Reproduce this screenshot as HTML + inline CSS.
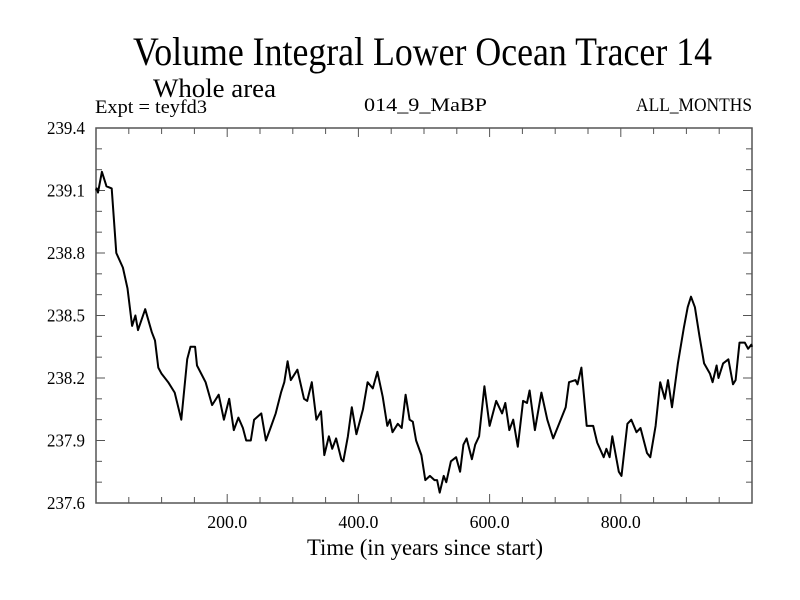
<!DOCTYPE html>
<html><head><meta charset="utf-8"><style>
html,body{margin:0;padding:0;background:#fff;}
svg{display:block;font-family:"Liberation Serif",serif;}
</style></head><body>
<svg id="chart" width="800" height="600" viewBox="0 0 800 600" xmlns="http://www.w3.org/2000/svg">
<rect width="800" height="600" fill="#fff"/>
<text x="133" y="65" font-size="40" textLength="579" lengthAdjust="spacingAndGlyphs">Volume Integral Lower Ocean Tracer 14</text>
<text x="153" y="97" font-size="26" textLength="123" lengthAdjust="spacingAndGlyphs">Whole area</text>
<text x="95" y="113" font-size="19" textLength="112" lengthAdjust="spacingAndGlyphs">Expt = teyfd3</text>
<text x="364" y="111" font-size="19" textLength="123" lengthAdjust="spacingAndGlyphs">014_9_MaBP</text>
<text x="636" y="111" font-size="19" textLength="116" lengthAdjust="spacingAndGlyphs">ALL_MONTHS</text>
<text x="307" y="555" font-size="23" textLength="236" lengthAdjust="spacingAndGlyphs">Time (in years since start)</text>
<g id="axes"></g>
<g id="series"></g>
</svg>
<script>
const xTickValues = [200, 400, 600, 800];
const xTickLabels = ["200.0", "400.0", "600.0", "800.0"];
const yTickValues = [237.6, 237.9, 238.2, 238.5, 238.8, 239.1, 239.4];
const yTickLabels = ["237.6", "237.9", "238.2", "238.5", "238.8", "239.1", "239.4"];
const years = [0,1,3,9,16,24,31,41,48,55,60,64,75,85,90,95,100,110,120,130,139,144,151,154,167,177,187,195,203,210,217,224,229,236,241,252,259,266,274,282,287,292,297,307,317,322,329,336,343,348,355,360,366,374,377,384,390,397,407,414,422,429,437,444,448,452,460,466,472,478,483,488,496,502,509,516,520,524,530,534,541,549,555,560,565,573,578,584,592,600,610,619,624,630,636,643,651,657,661,669,679,688,697,706,716,721,731,734,740,748,758,764,774,778,783,787,797,801,810,816,824,830,840,845,853,860,867,872,878,887,896,902,907,913,920,927,936,940,946,949,956,964,971,975,981,989,994,999,1000];
const tracer = [239.10,239.11,239.09,239.19,239.12,239.11,238.80,238.73,238.63,238.45,238.50,238.43,238.53,238.42,238.38,238.25,238.22,238.18,238.13,238.00,238.29,238.35,238.35,238.26,238.18,238.07,238.12,238.00,238.10,237.95,238.01,237.96,237.90,237.90,238.00,238.03,237.90,237.96,238.03,238.13,238.18,238.28,238.19,238.24,238.10,238.09,238.18,238.00,238.04,237.83,237.92,237.86,237.91,237.81,237.80,237.92,238.06,237.93,238.05,238.18,238.15,238.23,238.11,237.97,238.00,237.94,237.98,237.96,238.12,238.00,237.99,237.90,237.83,237.71,237.73,237.71,237.71,237.65,237.73,237.70,237.80,237.82,237.75,237.88,237.91,237.81,237.88,237.92,238.16,237.97,238.09,238.03,238.08,237.95,238.00,237.87,238.09,238.08,238.14,237.95,238.13,238.00,237.91,237.98,238.06,238.18,238.19,238.17,238.25,237.97,237.97,237.89,237.82,237.86,237.82,237.92,237.75,237.73,237.98,238.00,237.94,237.96,237.84,237.82,237.97,238.18,238.10,238.19,238.06,238.27,238.44,238.54,238.59,238.54,238.40,238.27,238.22,238.18,238.26,238.20,238.27,238.29,238.17,238.19,238.37,238.37,238.34,238.36,238.35];

const L=96,R=752,T=128,B=503;
const xMin=0,xMax=1000,yMin=237.6,yMax=239.4;
const NS="http://www.w3.org/2000/svg";
function xs(v){return L+(v-xMin)/(xMax-xMin)*(R-L);}
function ys(v){return B-(v-yMin)/(yMax-yMin)*(B-T);}
function mk(tag,attrs,parent){const e=document.createElementNS(NS,tag);for(const k in attrs)e.setAttribute(k,attrs[k]);parent.appendChild(e);return e;}
const axes=document.getElementById('axes');
const frame=mk('rect',{x:L,y:T,width:R-L,height:B-T,fill:'none',stroke:'#555','stroke-width':1.5},axes);


for(let v=50;v<xMax;v+=50){
  const major=v%200===0, len=major?9:6, x=xs(v);
  const t1=mk('line',{x1:x,y1:B,x2:x,y2:B-len,stroke:'#555','stroke-width':1},axes);
  
  
  const t2=mk('line',{x1:x,y1:T,x2:x,y2:T+len,stroke:'#555','stroke-width':1},axes);
  
  
}
xTickValues.forEach((v,i)=>{
  const t=mk('text',{x:xs(v)-20,y:528,'font-size':18,textLength:40,lengthAdjust:'spacingAndGlyphs'},axes);
  t.textContent=xTickLabels[i];
  
  
});
for(let i=1;i<18;i++){
  const v=yMin+i*0.1, major=i%3===0, len=major?9:6, y=ys(v);
  const t1=mk('line',{x1:L,y1:y,x2:L+len,y2:y,stroke:'#555','stroke-width':1},axes);
  
  
  const t2=mk('line',{x1:R,y1:y,x2:R-len,y2:y,stroke:'#555','stroke-width':1},axes);
  
  
}
yTickValues.forEach((v,i)=>{
  const t=mk('text',{x:47,y:ys(v)+6,'font-size':18,textLength:38,lengthAdjust:'spacingAndGlyphs'},axes);
  t.textContent=yTickLabels[i];
  
  
});
const pts=years.map((yr,i)=>xs(yr).toFixed(1)+','+ys(tracer[i]).toFixed(1)).join(' ');
const line=mk('polyline',{points:pts,fill:'none',stroke:'#000','stroke-width':2,'stroke-linejoin':'round'},document.getElementById('series'));


</script>
</body></html>
